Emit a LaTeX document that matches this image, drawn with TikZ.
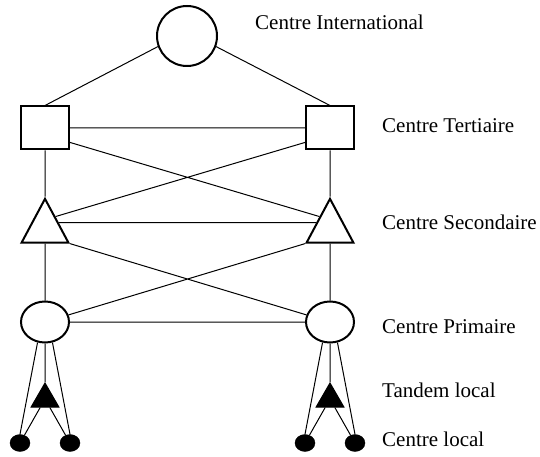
\documentclass[tikz,border=0pt]{standalone}
\usepackage{fontspec}
\setmainfont{Liberation Serif}
\usetikzlibrary{shapes.geometric,positioning}

\begin{document}
\begin{tikzpicture}[x=1pt,y=-1pt,on grid,
    every node/.style={inner sep=0pt},
    lien/.style={line width=1pt},
    cercle/.style={circle,draw,line width=2pt,minimum size=60pt},
    carre/.style={rectangle,draw,line width=2pt,minimum width=48pt,minimum height=43pt},
    triangle/.style={regular polygon,regular polygon sides=3,draw,line width=2pt,minimum size=54pt,yscale=1.08},
    ovale/.style={ellipse,draw,line width=2pt,minimum width=48pt,minimum height=41pt},
    tandem/.style={regular polygon,regular polygon sides=3,draw,fill=black,line width=1pt,minimum size=32pt},
    local/.style={ellipse,draw,fill=black,minimum width=20pt,minimum height=17pt},
    etiquette/.style={anchor=base west,font=\fontsize{21}{25}\selectfont}]
   \useasboundingbox (0,0) rectangle (540,457);
   % noeuds
   \node[cercle] (intl) at (187,36) {};
   \node[carre] (tertL) at (45,128) {};
   \node[carre] (tertR) [right=285pt of tertL] {};
   \node[triangle] (secL) [below=100pt of tertL] {};
   \node[triangle] (secR) [right=285pt of secL] {};
   \node[ovale] (primL) [below=94pt of secL] {};
   \node[ovale] (primR) [right=285pt of primL] {};
   \node[tandem] (tanL) [below=77pt of primL] {};
   \node[tandem] (tanR) [right=285pt of tanL] {};
   \node[local] (locL1) [below left=44pt and 25pt of tanL] {};
   \node[local] (locL2) [below right=44pt and 25pt of tanL] {};
   \node[local] (locR1) [below left=44pt and 25pt of tanR] {};
   \node[local] (locR2) [below right=44pt and 25pt of tanR] {};
   % textes
   \node[etiquette] (tIntl) at (255,30) {Centre International};
   \node[etiquette] (tTert) at (382,133) {Centre Tertiaire};
   \node[etiquette] (tSec) at (382,229) {Centre Secondaire};
   \node[etiquette] (tPrim) at (382,333) {Centre Primaire};
   \node[etiquette] (tTan) at (382,397) {Tandem local};
   \node[etiquette] (tLoc) at (382,446) {Centre local};
   % liaisons
   \draw[lien] (intl.200) -- (tertL.north)
               (intl.-20) -- (tertR.north)
               (tertL) -- (tertR)
               (tertL.-30) -- (secR.135)
               (tertR.-150) -- (secL.45)
               (tertL) -- (secL)
               (tertR) -- (secR)
               (secL.20) -- (secR.160)
               (secL.corner 3) -- (primR)
               (secR.corner 2) -- (primL)
               (secL) -- (primL)
               (secR) -- (primR)
               (primL) -- (primR);
   \draw[lien] (primL) -- (tanL)
               (primL.250) -- (locL1.north)
               (primL.290) -- (locL2.north)
               (tanL) -- (locL1)
               (tanL) -- (locL2);
   \draw[lien] (primR) -- (tanR)
               (primR.250) -- (locR1.north)
               (primR.290) -- (locR2.north)
               (tanR) -- (locR1)
               (tanR) -- (locR2);
\end{tikzpicture}
\end{document}
